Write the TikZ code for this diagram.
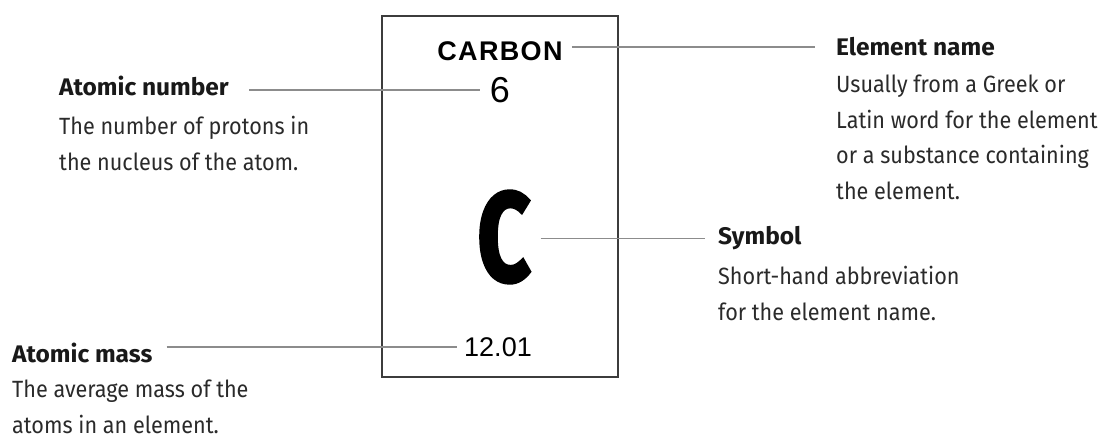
\documentclass[tikz,border=0pt]{standalone}
\usepackage{fontspec}
\usepackage{graphicx}
\setmainfont{Fira Sans}[FakeStretch=0.92]
\newfontfamily\headfont{Fira Sans}[FakeStretch=1.02]
\newfontfamily\symfont{Fira Sans}[FakeBold=3]
\newfontfamily\cellfont{Liberation Sans}
\usetikzlibrary{positioning}
\definecolor{leadcol}{HTML}{8C8C8C}
\definecolor{cellcol}{HTML}{3C3C3C}
\definecolor{desccol}{HTML}{2A2A2A}

\begin{document}
\begin{tikzpicture}[x=1pt,y=-1pt,
  head/.style={font=\headfont\fontsize{24}{35}\selectfont\bfseries,text=black!90,inner sep=0pt,anchor=base west},
  desc/.style={font=\fontsize{23.5}{35.5}\selectfont,text=desccol,align=left,inner sep=0pt},
  lead/.style={draw=leadcol,line width=1.4pt}]
  \useasboundingbox (0,0) rectangle (1100,438);
  % the element cell
  \node[draw=cellcol,line width=2.2pt,minimum width=236pt,minimum height=361pt,inner sep=0pt] (cell) at (500,196.5) {};
  \node[font=\cellfont\bfseries\fontsize{27}{27}\selectfont\addfontfeature{LetterSpace=5},inner sep=0pt] (name) at (500,51) {CARBON};
  \node[font=\cellfont\fontsize{36}{36}\selectfont,inner sep=0pt] (number) at (500,90) {6};
  \node[inner sep=0pt] (symbol) at (504,237) {\scalebox{0.73}[1]{\symfont\fontsize{126}{126}\selectfont\bfseries C}};
  \node[font=\cellfont\fontsize{27}{27}\selectfont,inner sep=0pt] (mass) at (498,347) {12.01};
  % labels
  \node[head] (numhead) at (59,96) {Atomic number};
  \node[desc,below right=20pt and 0pt of numhead.base west] (numdesc) {The number of protons in\\the nucleus of the atom.};
  \node[head] (namehead) at (836,56) {Element name};
  \node[desc,below right=19pt and 0pt of namehead.base west] (namedesc) {Usually from a Greek or\\Latin word for the element\\or a substance containing\\the element.};
  \node[head] (symhead) at (718,245) {Symbol};
  \node[desc,below right=21pt and 0pt of symhead.base west] (symdesc) {Short-hand abbreviation\\for the element name.};
  \node[head] (masshead) at (12,362) {Atomic mass};
  \node[desc,below right=18pt and 0pt of masshead.base west] (massdesc) {The average mass of the\\atoms in an element.};
  % leader lines
  \draw[lead,shorten <=20pt,shorten >=10pt] (numhead.east |- number.west) -- (number.west);
  \draw[lead,shorten <=9pt,shorten >=21pt] (name.east |- namehead.west) -- (namehead.west);
  \draw[lead,shorten <=10pt,shorten >=13pt] (symbol.east |- symhead.west) -- (symhead.west);
  \draw[lead,shorten <=14pt,shorten >=7pt] (masshead.east |- mass.west) -- (mass.west);
\end{tikzpicture}
\end{document}
